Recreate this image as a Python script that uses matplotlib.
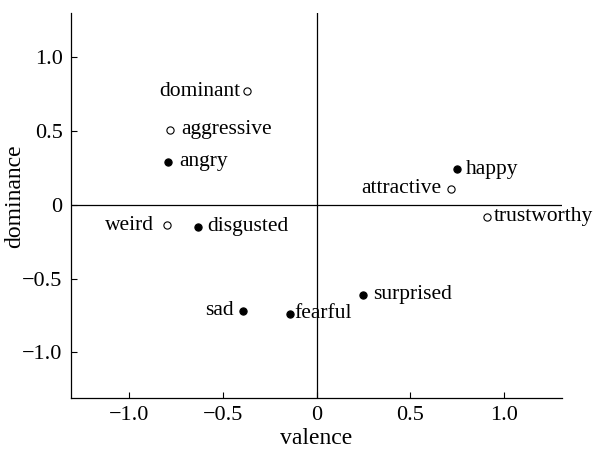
import matplotlib as mpl
import matplotlib.pyplot as plt

mpl.rcParams.update({
    'font.family': ['Liberation Serif', 'DejaVu Serif'],
    'font.size': 16,
    'axes.unicode_minus': True,
})

# traits: valence, dominance, filled marker?, label side
names = ['dominant', 'aggressive', 'angry', 'weird', 'disgusted', 'sad',
         'fearful', 'surprised', 'happy', 'attractive', 'trustworthy']
valence = [-0.37, -0.78, -0.79, -0.80, -0.63, -0.39,
           -0.14, 0.25, 0.75, 0.72, 0.91]
dominance = [0.77, 0.51, 0.29, -0.14, -0.15, -0.72,
             -0.74, -0.61, 0.24, 0.11, -0.08]
filled = [False, False, True, False, True, True,
          True, True, True, False, False]
side = ['left', 'right', 'right', 'left', 'right', 'left',
        'right', 'right', 'right', 'left', 'right']
gap = [5, 8, 8, 9, 6, 7, 3, 7, 6, 7, 5]

ticks = [-1.0, -0.5, 0, 0.5, 1.0]
tick_labels = ['\u22121.0', '\u22120.5', '0', '0.5', '1.0']

f = plt.figure(figsize=(5.96, 4.5), dpi=100)
ax = f.add_axes([0.1191, 0.1156, 0.8239, 0.8555])

ax.axhline(0, color='black', lw=0.9)
ax.axvline(0, color='black', lw=0.9)

for i in range(len(names)):
    ax.plot(valence[i], dominance[i], 'o', ms=5.2,
            mfc='black' if filled[i] else 'white', mec='black', mew=0.8)
    if side[i] == 'right':
        ax.annotate(names[i], (valence[i], dominance[i]), xytext=(gap[i], 0),
                    textcoords='offset points', ha='left', va='center',
                    fontsize=15.5)
    else:
        ax.annotate(names[i], (valence[i], dominance[i]), xytext=(-gap[i], 0),
                    textcoords='offset points', ha='right', va='center',
                    fontsize=15.5)

ax.set_xlim(-1.31, 1.31)
ax.set_ylim(-1.31, 1.30)
ax.set_xticks(ticks)
ax.set_xticklabels(tick_labels)
ax.set_yticks(ticks)
ax.set_yticklabels(tick_labels)
ax.tick_params(direction='in', length=4, width=0.8, pad=6, labelsize=16)
for k in ['top', 'right']:
    ax.spines[k].set_visible(False)
for k in ['left', 'bottom']:
    ax.spines[k].set_linewidth(0.9)

ax.set_xlabel('valence', fontsize=17, labelpad=2)
ax.set_ylabel('dominance', fontsize=17)
ax.yaxis.set_label_coords(-0.094, 0.525)

f.savefig('out.png', dpi=100)
